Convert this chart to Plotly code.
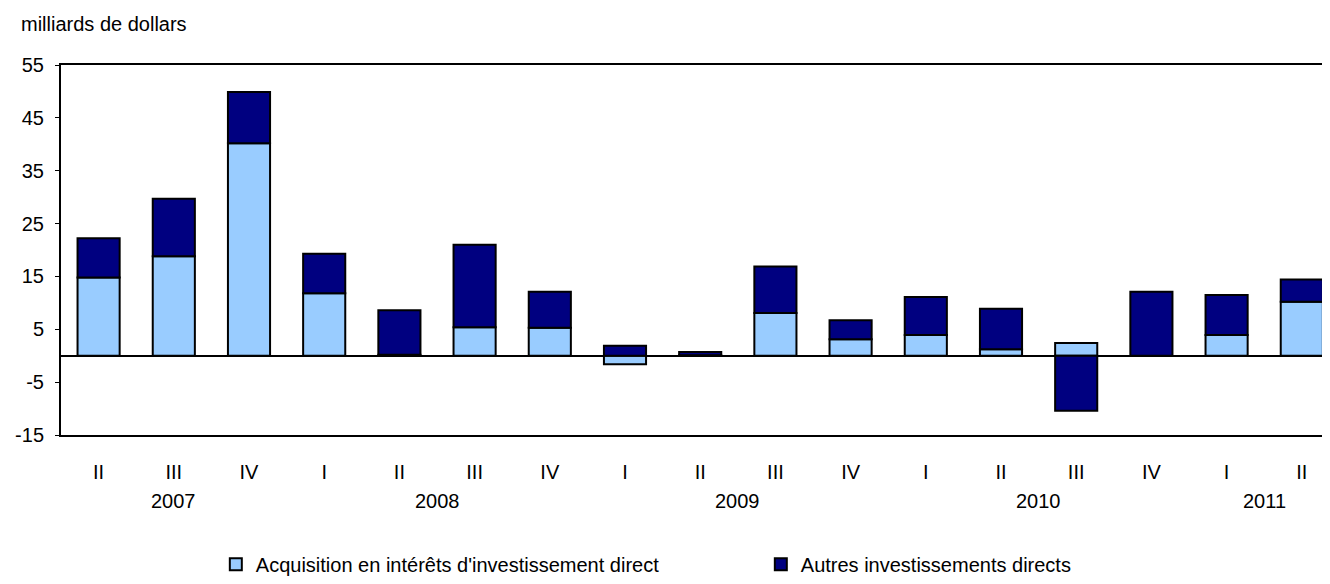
import plotly.graph_objects as go

quarters = ["II", "III", "IV", "I", "II", "III", "IV", "I", "II", "III", "IV",
            "I", "II", "III", "IV", "I", "II"]
years = ["2007"] * 3 + ["2008"] * 4 + ["2009"] * 4 + ["2010"] * 4 + ["2011"] * 2
acquisition = [14.8, 18.8, 40.2, 11.8, 0.2, 5.4, 5.3, -1.6, 0.1, 8.1, 3.1,
               3.9, 1.2, 2.4, 0.0, 3.9, 10.2]
autres = [7.4, 10.9, 9.7, 7.5, 8.4, 15.6, 6.8, 1.9, 0.6, 8.8, 3.6,
          7.2, 7.7, -10.4, 12.1, 7.6, 4.2]
year_labels = ["2007", "2008", "2009", "2010", "2011"]
y_ticks = [-15, -5, 5, 15, 25, 35, 45, 55]

idx = list(range(len(quarters)))
FONT = "Liberation Sans, Arial, sans-serif"
FS = 20

fig = go.Figure()
fig.add_trace(go.Bar(
    x=idx, y=acquisition, name="Acquisition en intérêts d'investissement direct",
    marker=dict(color="#99CCFF", line=dict(color="black", width=2)), width=0.56))
fig.add_trace(go.Bar(
    x=idx, y=autres, name="Autres investissements directs",
    marker=dict(color="#000080", line=dict(color="black", width=2)), width=0.56))

annotations = []
for yr in year_labels:
    pos = [i for i, y in enumerate(years) if y == yr]
    annotations.append(dict(x=sum(pos) / len(pos), y=0, xref="x", yref="paper",
                            text=yr, showarrow=False, yanchor="middle",
                            yshift=-66, font=dict(size=FS, color="black", family=FONT)))
annotations.append(dict(x=0, y=1, xref="paper", yref="paper", xanchor="left",
                        yanchor="middle", xshift=-42, yshift=41,
                        text="milliards de dollars", showarrow=False,
                        font=dict(size=FS, color="black", family=FONT)))

fig.update_layout(
    width=1322, height=576,
    barmode="relative",
    plot_bgcolor="white", paper_bgcolor="white",
    margin=dict(l=53, r=0, t=57, b=141, pad=0),
    font=dict(family=FONT, size=FS, color="black"),
    showlegend=True,
    legend=dict(orientation="h", x=0.122, xanchor="left", y=-0.349, yanchor="middle",
                entrywidth=500, entrywidthmode="pixels",
                font=dict(size=FS, family=FONT), itemclick=False),
    annotations=annotations,
    xaxis=dict(range=[-0.5, 16.375], tickvals=idx, ticktext=quarters,
               showgrid=False, zeroline=False, showline=True, linecolor="black",
               linewidth=2, mirror=True, ticks="outside", ticklen=18,
               tickcolor="rgba(0,0,0,0)", tickfont=dict(size=FS, family=FONT)),
    yaxis=dict(range=[-15, 55], tickvals=y_ticks, ticktext=[str(v) for v in y_ticks],
               showgrid=False,
               zeroline=True, zerolinecolor="black", zerolinewidth=2,
               showline=True, linecolor="black", linewidth=2,
               ticks="outside", ticklen=4, tickwidth=1, tickcolor="black",
               ticklabelstandoff=7,
               tickfont=dict(size=FS, family=FONT)),
)

fig.write_html("out.html")
